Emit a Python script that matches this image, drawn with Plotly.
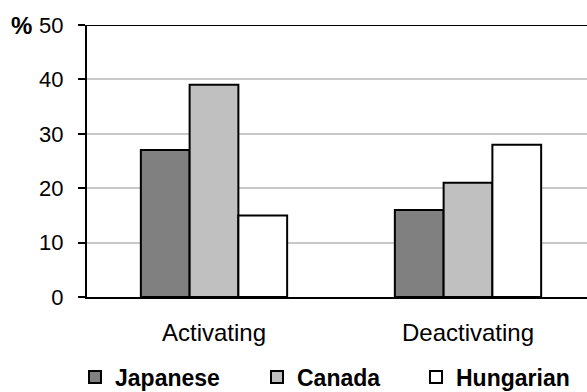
import plotly.graph_objects as go

# Survey shares (%) by emotion type and sample group
categories = ["Activating", "Deactivating"]
groups = ["Japanese", "Canada", "Hungarian"]
japanese = [27, 16]
canada = [39, 21]
hungarian = [15, 28]
y_ticks = [0, 10, 20, 30, 40, 50]

series = [japanese, canada, hungarian]
fills = ["#808080", "#c0c0c0", "#ffffff"]
legend_ids = ["legend", "legend2", "legend3"]

W, H = 587, 392
L, R, T, B = 87, 0, 25, 95
FONT = "Liberation Sans, Arial, sans-serif"


def px_to_paper(px, py):
    return (px - L) / (W - L - R), (H - B - py) / (H - T - B)


x_pos = list(range(len(categories)))
bar_w = 0.192
offsets = [-1.5 * bar_w, -0.5 * bar_w, 0.5 * bar_w]

fig = go.Figure()
for name, vals, fill, off, lg in zip(groups, series, fills, offsets, legend_ids):
    fig.add_trace(go.Bar(
        x=x_pos, y=vals, name=name,
        width=bar_w, offset=off,
        marker=dict(color=fill, line=dict(color="#000000", width=2)),
        legend=lg,
    ))

# top frame line at 50
fig.add_shape(type="line", xref="paper", yref="y", x0=0, x1=1, y0=50, y1=50,
              line=dict(color="#000000", width=2))

ax, ay = px_to_paper(9, 25)
fig.add_annotation(text="<b>%</b>", xref="paper", yref="paper",
                   x=ax, y=ay, xanchor="left", yanchor="middle",
                   showarrow=False, font=dict(size=24, color="#000000", family=FONT))

legend_text_x = [115, 297, 456]
legend_common = dict(orientation="h", xref="container", yref="container",
                     yanchor="middle", xanchor="left", bgcolor="rgba(0,0,0,0)",
                     font=dict(size=23, color="#000000", family=FONT, weight="bold"),
                     itemclick=False, itemdoubleclick=False)
legend_layout = {}
for lg, tx in zip(legend_ids, legend_text_x):
    legend_layout[lg] = dict(legend_common, x=(tx - 40) / W, y=1 - 377 / H)

fig.update_layout(
    width=W, height=H,
    margin=dict(l=L, r=R, t=T, b=B),
    paper_bgcolor="#ffffff", plot_bgcolor="#ffffff",
    barmode="overlay",
    showlegend=True,
    font=dict(family=FONT, size=22, color="#000000"),
    xaxis=dict(
        tickmode="array", tickvals=x_pos, ticktext=categories,
        range=[-0.5, 1.5 - 8 / 254],
        showline=True, linecolor="#000000", linewidth=2,
        showgrid=False, zeroline=False, ticks="",
        ticklabelstandoff=13,
        tickfont=dict(size=24, color="#000000"),
    ),
    yaxis=dict(
        range=[0, 50], tickmode="array", tickvals=y_ticks,
        showline=True, linecolor="#000000", linewidth=2,
        showgrid=True, gridcolor="#c8c8c8", gridwidth=2,
        zeroline=False, ticks="outside", ticklen=7, tickwidth=2,
        tickcolor="#000000", ticklabelstandoff=10,
        tickfont=dict(size=22, color="#000000"),
    ),
    **legend_layout,
)

fig.write_html("out.html")
